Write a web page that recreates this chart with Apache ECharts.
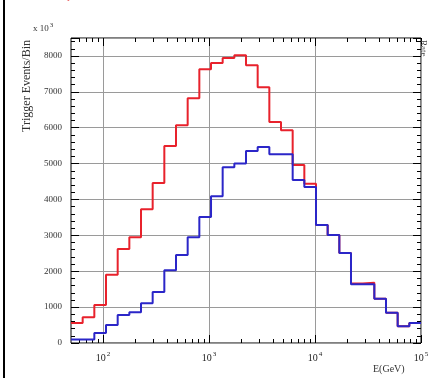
<!DOCTYPE html>
<html>
<head>
<meta charset="utf-8">
<script src="https://cdn.jsdelivr.net/npm/echarts@6/dist/echarts.min.js"></script>
<style>
  html, body { margin: 0; padding: 0; background: #fff; }
  #chart { width: 435px; height: 378px; }
</style>
</head>
<body>
<div id="chart"></div>
<script>
// Log-spaced energy bin edges (GeV), 30 bins from 50 GeV to 100 TeV
const binEdges = [50, 64.42, 82.99, 106.9, 137.8, 177.5, 228.7, 294.6, 379.5, 489.0,
  630.0, 811.6, 1046, 1347, 1736, 2236, 2881, 3712, 4782, 6161,
  7937, 10226, 13174, 16973, 21867, 28172, 36296, 46762, 60246, 77618, 100000];

// Trigger events per bin
const redCounts = [560, 720, 1060, 1900, 2620, 2950, 3730, 4460, 5490, 6070,
  6820, 7630, 7800, 7940, 8020, 7740, 7130, 6160, 5930, 4960,
  4440, 3290, 3010, 2510, 1660, 1680, 1230, 840, 470, 560];
const blueCounts = [100, 100, 280, 500, 780, 860, 1110, 1420, 2030, 2450,
  2950, 3510, 4090, 4900, 5000, 5350, 5460, 5260, 5260, 4540,
  4350, 3290, 3010, 2510, 1640, 1640, 1230, 840, 470, 560];

// Axis ticks and labels
const xMajorTicks = [100, 1000, 10000, 100000];
const xMinorTicks = [60, 70, 80, 90, 200, 300, 400, 500, 600, 700, 800, 900,
  2000, 3000, 4000, 5000, 6000, 7000, 8000, 9000,
  20000, 30000, 40000, 50000, 60000, 70000, 80000, 90000];
const xLabelText = { 100: '2', 1000: '3', 10000: '4', 100000: '5' };

const FONT = 'Liberation Serif';

function histPoints(edges, counts) {
  const pts = counts.map((v, i) => [edges[i], v]);
  pts.push([edges[edges.length - 1], counts[counts.length - 1]]);
  return pts;
}

function xAxisDef(position, ticks, len, labels, grid) {
  return {
    type: 'log', logBase: 10, min: 50, max: 100000, position: position,
    axisLine: { show: false },
    axisTick: { show: true, inside: true, length: len, customValues: ticks,
      lineStyle: { color: '#000', width: 1 } },
    axisLabel: labels ? {
      show: true, customValues: xMajorTicks, margin: 8,
      formatter: v => '{b|10}{s|' + xLabelText[Math.round(v)] + '}',
      rich: {
        b: { fontFamily: FONT, fontSize: 10, color: '#222' },
        s: { fontFamily: FONT, fontSize: 7, color: '#222', verticalAlign: 'top', padding: [0, 0, 8, 1] }
      }
    } : { show: false },
    splitLine: grid ? { show: true, lineStyle: { color: '#9a9a9a', width: 1 } } : { show: false }
  };
}

const chart = echarts.init(document.getElementById('chart'), null, { renderer: 'canvas' });

chart.setOption({
  animation: false,
  backgroundColor: '#fff',
  grid: { left: 71, right: 14, top: 38, bottom: 35, show: true,
    borderColor: '#000', borderWidth: 1, backgroundColor: 'transparent' },
  xAxis: [
    xAxisDef('bottom', xMajorTicks, 8, true, true),
    xAxisDef('bottom', xMinorTicks, 4, false, false),
    xAxisDef('top', xMajorTicks, 8, false, false),
    xAxisDef('top', xMinorTicks, 4, false, false)
  ],
  yAxis: [
    {
      type: 'value', min: 0, max: 8500, interval: 1000, position: 'left',
      axisLine: { show: false },
      axisTick: { show: true, inside: true, length: 8, lineStyle: { color: '#000' } },
      minorTick: { show: true, splitNumber: 5, length: 4, lineStyle: { color: '#000' } },
      axisLabel: { show: true, margin: 9, showMaxLabel: false,
        formatter: v => String(v),
        fontFamily: FONT, fontSize: 9, color: '#333' },
      splitLine: { show: true, lineStyle: { color: '#9a9a9a', width: 1 } }
    },
    {
      type: 'value', min: 0, max: 8500, interval: 1000, position: 'right',
      axisLine: { show: false },
      axisTick: { show: true, inside: true, length: 8, lineStyle: { color: '#000' } },
      minorTick: { show: true, splitNumber: 5, length: 4, lineStyle: { color: '#000' } },
      axisLabel: { show: false },
      splitLine: { show: false }
    }
  ],
  series: [
    {
      type: 'line', step: 'end', xAxisIndex: 0, yAxisIndex: 0,
      data: histPoints(binEdges, redCounts),
      showSymbol: false, symbol: 'none',
      lineStyle: { color: '#e8222c', width: 2 }, z: 3
    },
    {
      type: 'line', step: 'end', xAxisIndex: 0, yAxisIndex: 0,
      data: histPoints(binEdges, blueCounts),
      showSymbol: false, symbol: 'none',
      lineStyle: { color: '#2b26c8', width: 2 }, z: 4
    }
  ],
  graphic: [
    // left page border
    { type: 'rect', left: 3, top: 0, shape: { width: 2, height: 378 }, style: { fill: '#000' }, z: 10 },
    // caption fragment along the top edge
    { type: 'text', left: 6, top: -9, style: { text: 'Simulated Fe primaries', fill: '#e85050',
      font: '11px ' + FONT }, z: 10 },
    // y axis title
    { type: 'text', x: 21, y: 40, rotation: Math.PI / 2,
      style: { text: 'Trigger Events/Bin', fill: '#333', font: '12px ' + FONT,
        align: 'right', verticalAlign: 'top' }, z: 10 },
    // y scale factor
    { type: 'text', left: 33, top: 22, style: {
        text: '{b|x 10}{s|3}',
        rich: { b: { font: '9px ' + FONT, fill: '#333' },
                s: { font: '7px ' + FONT, fill: '#333', verticalAlign: 'top', padding: [0, 0, 6, 1] } }
      }, z: 10 },
    // x axis title
    { type: 'text', left: 373, top: 364, style: { text: 'E(GeV)', fill: '#333',
      font: '10px ' + FONT }, z: 10 },
    // neighbouring panel title at the right edge
    { type: 'text', x: 428, y: 40, rotation: -Math.PI / 2,
      style: { text: 'Rate', fill: '#444', font: '9px ' + FONT, align: 'left', verticalAlign: 'top' }, z: 10 }
  ]
});
</script>
</body>
</html>
